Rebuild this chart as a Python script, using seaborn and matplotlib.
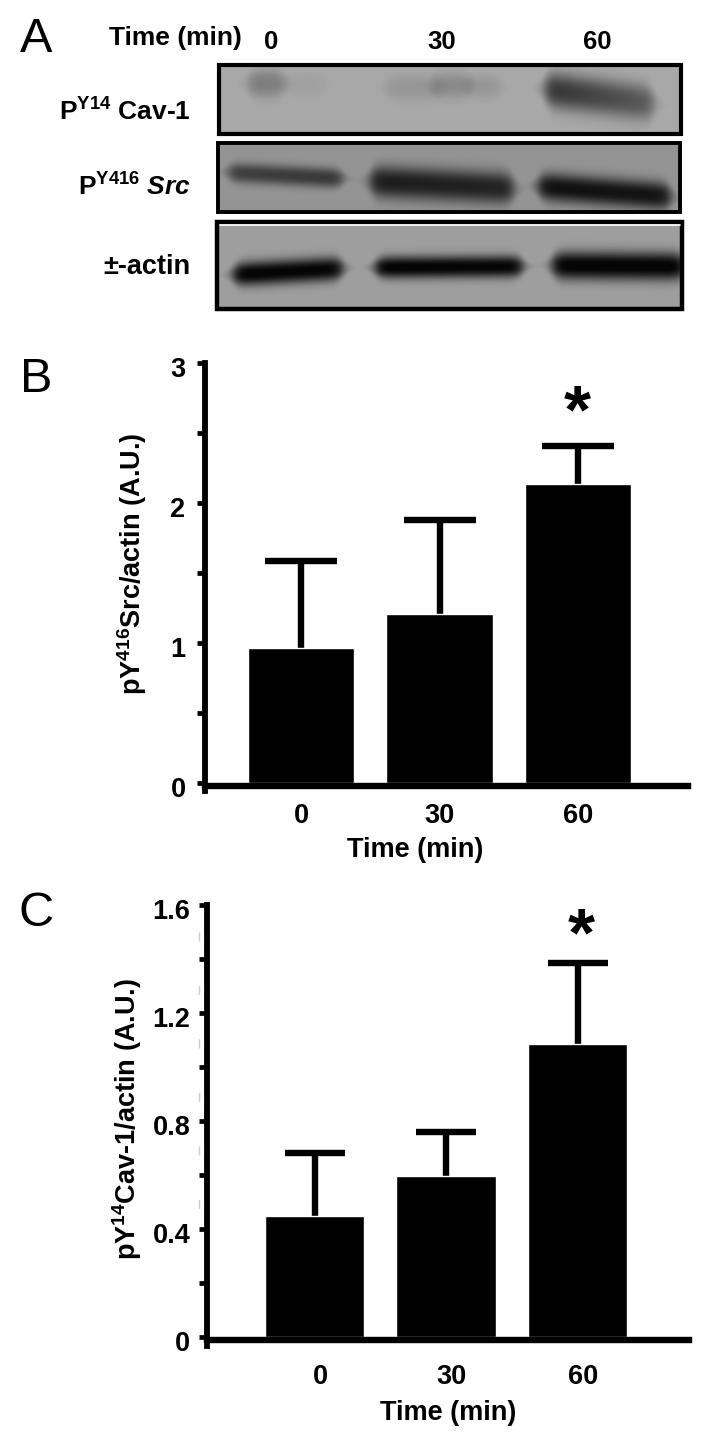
#!/usr/bin/env python3
# Western blot panel plus two quantification bar charts
import numpy as np
import pandas as pd
import matplotlib

matplotlib.use("Agg")
import matplotlib.pyplot as plt  # noqa: E402
from matplotlib.transforms import ScaledTranslation  # noqa: E402
import seaborn as sns  # noqa: E402

W, H = 722, 1441

times = ["0", "30", "60"]

src_means = [0.964, 1.207, 2.136]
src_errs = [0.622, 0.672, 0.271]
src_ticks = [0, 1, 2, 3]
src_minor = [0.5, 1.5, 2.5]

cav_means = [0.45, 0.595, 1.085]
cav_errs = [0.233, 0.163, 0.30]
cav_ticks = [0, 0.4, 0.8, 1.2, 1.6]
cav_minor = [0.2, 0.6, 1.0, 1.4]
cav_tick_labels = ["0", "0.4", "0.8", "1.2", "1.6"]

# blot bands: x0, x1, y at x0, y at x1, half thickness, darkness at x0, darkness at x1
cav_bands = [
    (248, 284, 83, 83, 14, 0.17, 0.17),
    (285, 325, 84, 84, 12, 0.03, 0.03),
    (385, 440, 87, 87, 13, 0.07, 0.07),
    (432, 470, 85, 85, 13, 0.12, 0.12),
    (465, 500, 86, 86, 12, 0.07, 0.07),
    (545, 653, 89, 103, 18, 0.46, 0.30),
]
src_bands = [
    (228, 342, 172, 178, 10, 0.33, 0.36),
    (370, 513, 181, 188, 16, 0.47, 0.44),
    (538, 670, 186, 196, 14, 0.52, 0.50),
]
actin_bands = [
    (233, 342, 274, 268, 12, 0.62, 0.60),
    (375, 522, 267, 266, 11, 0.62, 0.60),
    (552, 684, 265, 266, 14, 0.62, 0.62),
]


def draw_blot(ax, box, background, bands, border):
    x0, x1, y0, y1 = box
    xs, ys = np.meshgrid(np.arange(x0, x1), np.arange(y0, y1))
    img = np.full(xs.shape, float(background))
    for bx0, bx1, yl, yr, half, d0, d1 in bands:
        frac = (xs - bx0) / (bx1 - bx0)
        yc = yl + (yr - yl) * frac
        along = 0.5 * (np.tanh((xs - bx0) / 7) - np.tanh((xs - bx1) / 7))
        # bands taper to their ends
        taper = np.clip(along, 0.01, 1) ** 0.45
        across = np.exp(-(np.abs(ys - yc) / (half * taper)) ** 2.4)
        img -= (d0 + (d1 - d0) * np.clip(frac, 0, 1)) * across * along
    img = np.clip(img, 0.02, 1)
    ax.imshow(img, cmap="gray", vmin=0, vmax=1, extent=(x0, x1, y1, y0),
              aspect="auto", zorder=1, interpolation="bilinear")
    ax.add_patch(plt.Rectangle((x0 + 2, y0 + 2), x1 - x0 - 4, y1 - y0 - 4, fill=False,
                               ec="black", lw=border, zorder=2))


def add_axes_px(fig, left, right, top, bottom):
    return fig.add_axes([left / W, 1 - bottom / H, (right - left) / W, (bottom - top) / H])


def bar_panel(fig, box, zero_px, base_px, means, errs, ticks, labels, minor, width, centre0,
              spacing, cap, label_shift, xpad, ypad):
    left, right, top, bottom = box
    ax = add_axes_px(fig, left, right, top, bottom)
    ax.patch.set_visible(False)
    per_px = ticks[-1] / (zero_px - top)
    df = pd.DataFrame({"time": times, "value": means})
    sns.barplot(ax=ax, data=df, x="time", y="value", order=times, color="black",
                saturation=1, width=width, errorbar=None, zorder=2)
    _, caplines, _ = ax.errorbar(range(3), means, yerr=[np.zeros(3), errs], fmt="none",
                                 ecolor="black", elinewidth=4.6, capsize=cap, capthick=4.6,
                                 zorder=1)
    caplines[0].set_visible(False)
    ax.set_xlim((left - centre0) / spacing, (right - centre0) / spacing)
    ax.set_ylim(-(bottom - zero_px) * per_px, ticks[-1])
    sns.despine(ax=ax)
    ax.spines["left"].set_linewidth(4.2)
    ax.spines["bottom"].set_linewidth(4.6)
    ax.spines["bottom"].set_position(("data", -(base_px - zero_px) * per_px))
    ax.set_yticks(ticks)
    ax.set_yticklabels(labels, fontsize=19.5, fontweight="bold")
    ax.set_yticks(minor, minor=True)
    ax.tick_params(axis="y", which="both", direction="out", length=6, width=3.4, pad=ypad)
    # tick labels sit a little below their ticks in the original
    nudge = ScaledTranslation(0, -3 / 72, fig.dpi_scale_trans)
    for lab in ax.get_yticklabels():
        lab.set_transform(lab.get_transform() + nudge)
    ax.set_xticks(np.arange(3) + label_shift)
    ax.set_xticklabels(times, fontsize=19.5, fontweight="bold")
    ax.tick_params(axis="x", length=0, pad=xpad)
    ax.set_xlabel("")
    ax.set_ylabel("")
    return ax


def main():
    sns.set_style("white", {"axes.edgecolor": "black", "text.color": "black",
                            "xtick.color": "black", "ytick.color": "black",
                            "ytick.left": True})
    plt.rcParams["font.family"] = ["Liberation Sans", "DejaVu Sans"]
    plt.rcParams["mathtext.fontset"] = "custom"
    plt.rcParams["mathtext.default"] = "regular"
    plt.rcParams["mathtext.it"] = "Liberation Sans:italic:bold"
    plt.rcParams["mathtext.bf"] = "Liberation Sans:bold"
    plt.rcParams["mathtext.rm"] = "Liberation Sans:bold"

    fig = plt.figure(figsize=(W / 100, H / 100), dpi=100)

    # overlay in image pixels for the blots and free text
    over = fig.add_axes([0, 0, 1, 1])
    over.set_xlim(0, W)
    over.set_ylim(H, 0)
    over.axis("off")
    over.set_zorder(5)

    draw_blot(over, (217, 683, 63, 136), 0.66, cav_bands, 3.0)
    draw_blot(over, (216, 682, 141, 214), 0.58, src_bands, 2.8)
    draw_blot(over, (215, 684, 220, 311), 0.62, actin_bands, 3.2)
    over.plot([220, 680], [225, 225], color="white", lw=1.2, zorder=3)

    bold = dict(fontweight="bold", color="black")
    over.text(175, 38, "Time (min)", fontsize=19, ha="center", va="center", **bold)
    for x, t in zip([271, 442, 597], times):
        over.text(x, 42, t, fontsize=18.5, ha="center", va="center", **bold)
    over.text(191, 112, r"P$^{Y14}$ Cav-1", fontsize=19, ha="right", va="center", **bold)
    over.text(191, 187, r"P$^{Y416}$ $\mathit{Src}$", fontsize=19, ha="right", va="center", **bold)
    over.text(191, 267, "±-actin", fontsize=19.5, ha="right", va="center", **bold)

    for y, letter in zip([39, 379, 913], "ABC"):
        over.text(36, y, letter, fontsize=35, ha="center", va="center", color="black")

    bar_panel(fig, (205, 688, 363, 791), 783, 786, src_means, src_errs, src_ticks,
              [str(t) for t in src_ticks], src_minor, 0.77, 301, 138.5, 26, 0, 12, 8)
    bar_panel(fig, (207, 689, 905, 1346), 1337, 1339.5, cav_means, cav_errs, cav_ticks,
              cav_tick_labels, cav_minor, 0.757, 314.5, 131.5, 21.6, 0.045, 18, 6)

    over.text(415, 850, "Time (min)", fontsize=19.5, ha="center", va="center", **bold)
    over.text(448, 1413, "Time (min)", fontsize=19.5, ha="center", va="center", **bold)
    over.text(132, 564, r"pY$^{416}$Src/actin (A.U.)", fontsize=19.5, rotation=90,
              ha="center", va="center", **bold)
    over.text(127, 1119, r"pY$^{14}$Cav-1/actin (A.U.)", fontsize=19.5, rotation=90,
              ha="center", va="center", **bold)
    over.text(577, 414, "*", fontsize=50, ha="center", va="center", **bold)
    over.text(581, 937, "*", fontsize=50, ha="center", va="center", **bold)
    # faint scan marks left of panel C's axis
    over.plot([199, 199], [932, 1215], color="0.8", lw=1, dashes=(6.5, 32), zorder=1)

    fig.savefig("out.png", dpi=100, facecolor="white")
    plt.close(fig)


if __name__ == "__main__":
    main()
